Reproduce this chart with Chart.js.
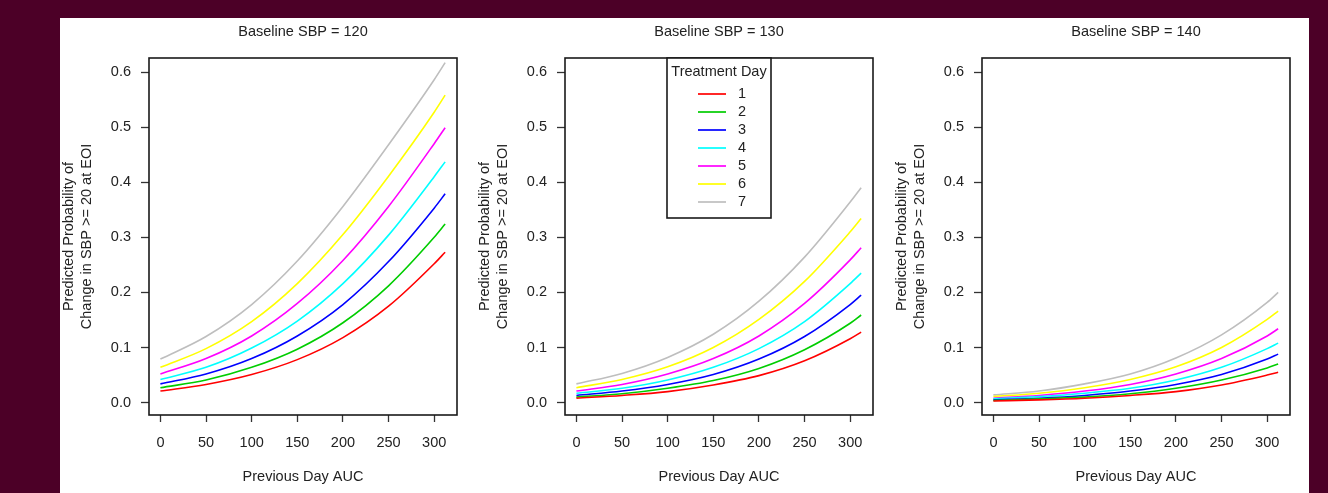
<!DOCTYPE html>
<html>
<head>
<meta charset="utf-8">
<script src="https://cdn.jsdelivr.net/npm/chart.js@4.4.1/dist/chart.umd.min.js"></script>
<style>
  body { margin: 0; background: #4c0027; width: 1328px; height: 493px; overflow: hidden; }
  #sheet { position: absolute; left: 60px; top: 18px; width: 1249px; height: 475px; background: #fff; }
  #sheet canvas { position: absolute; top: 0; }
</style>
</head>
<body>
<div id="sheet">
  <canvas id="p0" width="416" height="475" style="left:0px"></canvas>
  <canvas id="p1" width="416" height="475" style="left:416px"></canvas>
  <canvas id="p2" width="416" height="475" style="left:833px"></canvas>
</div>
<script>
// values
const auc = [0, 50, 100, 150, 200, 250, 300, 312];
const days = ["1", "2", "3", "4", "5", "6", "7"];
const dayColors = ["#ff0000", "#00cd00", "#0000ff", "#00ffff", "#ff00ff", "#ffff00", "#bebebe"];
const panelTitles = ["Baseline SBP = 120", "Baseline SBP = 130", "Baseline SBP = 140"];
const xTicks = [0, 50, 100, 150, 200, 250, 300];
const yTicks = [0, 0.1, 0.2, 0.3, 0.4, 0.5, 0.6];

// one row per treatment day
const sbp120 = [
    [0.021, 0.033, 0.051, 0.078, 0.118, 0.175, 0.252, 0.273],
    [0.027, 0.041, 0.064, 0.097, 0.145, 0.212, 0.300, 0.324],
    [0.034, 0.052, 0.080, 0.121, 0.178, 0.256, 0.353, 0.379],
    [0.042, 0.064, 0.099, 0.148, 0.216, 0.304, 0.410, 0.437],
    [0.052, 0.080, 0.121, 0.180, 0.258, 0.356, 0.470, 0.499],
    [0.064, 0.098, 0.147, 0.216, 0.305, 0.411, 0.527, 0.558],
    [0.079, 0.120, 0.178, 0.257, 0.356, 0.468, 0.586, 0.617]
];
const sbp130 = [
    [0.008, 0.013, 0.020, 0.032, 0.049, 0.076, 0.116, 0.128],
    [0.010, 0.016, 0.026, 0.040, 0.062, 0.096, 0.144, 0.159],
    [0.013, 0.021, 0.033, 0.051, 0.079, 0.120, 0.178, 0.195],
    [0.017, 0.026, 0.041, 0.064, 0.098, 0.147, 0.216, 0.235],
    [0.021, 0.033, 0.052, 0.080, 0.121, 0.180, 0.259, 0.281],
    [0.027, 0.042, 0.065, 0.100, 0.151, 0.220, 0.310, 0.334],
    [0.034, 0.053, 0.082, 0.124, 0.184, 0.264, 0.364, 0.390]
];
const sbp140 = [
    [0.003, 0.005, 0.008, 0.013, 0.020, 0.032, 0.050, 0.055],
    [0.004, 0.007, 0.010, 0.016, 0.026, 0.041, 0.063, 0.070],
    [0.005, 0.008, 0.013, 0.021, 0.033, 0.051, 0.079, 0.088],
    [0.007, 0.011, 0.017, 0.026, 0.041, 0.064, 0.098, 0.108],
    [0.008, 0.013, 0.021, 0.033, 0.052, 0.080, 0.121, 0.134],
    [0.011, 0.017, 0.027, 0.042, 0.065, 0.100, 0.151, 0.166],
    [0.014, 0.021, 0.034, 0.052, 0.081, 0.123, 0.182, 0.200]
];
const panels = [sbp120, sbp130, sbp140];

const FONT = "'Liberation Sans', Arial, sans-serif";
Chart.defaults.font.family = FONT;
Chart.defaults.font.size = 14.5;
Chart.defaults.color = "#222";

// R style box around the plot region + panel title centred over it
const boxPlugin = {
    id: "box",
    afterDatasetsDraw(chart) {
        const a = chart.chartArea, ctx = chart.ctx;
        ctx.save();
        ctx.strokeStyle = "#1a1a1a";
        ctx.lineWidth = 1.6;
        ctx.strokeRect(a.left, a.top, a.right - a.left, a.bottom - a.top);
        ctx.fillStyle = "#222";
        ctx.font = "14.5px " + FONT;
        ctx.textAlign = "center";
        ctx.textBaseline = "middle";
        ctx.fillText(chart.options.panelTitle, (a.left + a.right) / 2, 14);
        ctx.restore();
    }
};

// legend box at the top of the middle panel
const dayLegend = {
    id: "dayLegend",
    afterDraw(chart) {
        const a = chart.chartArea, ctx = chart.ctx;
        const cx = (a.left + a.right) / 2;
        const w = 104, h = 160;
        ctx.save();
        ctx.fillStyle = "#fff";
        ctx.fillRect(cx - w / 2, a.top, w, h);
        ctx.strokeStyle = "#1a1a1a";
        ctx.lineWidth = 1.6;
        ctx.strokeRect(cx - w / 2, a.top, w, h);
        ctx.fillStyle = "#222";
        ctx.font = "14.5px " + FONT;
        ctx.textAlign = "center";
        ctx.textBaseline = "middle";
        ctx.fillText("Treatment Day", cx, a.top + 14);
        ctx.textAlign = "left";
        days.forEach((d, i) => {
            const y = a.top + 36 + i * 18;
            ctx.strokeStyle = dayColors[i];
            ctx.lineWidth = 1.7;
            ctx.beginPath();
            ctx.moveTo(cx - 21, y);
            ctx.lineTo(cx + 7, y);
            ctx.stroke();
            ctx.fillText(d, cx + 19, y);
        });
        ctx.restore();
    }
};

panels.forEach((rows, p) => {
    const plugins = [boxPlugin];
    if (p === 1) plugins.push(dayLegend);
    new Chart(document.getElementById("p" + p), {
        type: "line",
        data: {
            datasets: rows.map((vals, i) => ({
                label: days[i],
                data: auc.map((x, j) => ({ x: x, y: vals[j] })),
                borderColor: dayColors[i],
                borderWidth: 1.6,
                pointRadius: 0,
                fill: false,
                cubicInterpolationMode: "monotone"
            }))
        },
        options: {
            panelTitle: panelTitles[p],
            responsive: false,
            animation: false,
            events: [],
            layout: { padding: { left: 0, right: 19, top: 40, bottom: 0 } },
            plugins: {
                legend: { display: false },
                tooltip: { enabled: false },
                title: { display: false }
            },
            scales: {
                x: {
                    type: "linear",
                    min: -12.5,
                    max: 325,
                    afterBuildTicks: (s) => { s.ticks = xTicks.map(v => ({ value: v })); },
                    afterFit: (s) => { s.height = 78; },
                    ticks: { padding: 12.3, maxRotation: 0, color: "#222" },
                    grid: { drawOnChartArea: false, drawTicks: true, tickLength: 7, tickColor: "#333", tickWidth: 1.3 },
                    border: { display: false },
                    title: { display: true, text: "Previous Day AUC", color: "#222", padding: { top: 0, bottom: 7.3 } }
                },
                y: {
                    type: "linear",
                    min: -0.0225,
                    max: 0.6255,
                    afterBuildTicks: (s) => { s.ticks = yTicks.map(v => ({ value: v })); },
                    afterFit: (s) => { s.width = 89; },
                    ticks: { padding: 10, color: "#222", callback: (v) => v.toFixed(1) },
                    grid: { drawOnChartArea: false, drawTicks: true, tickLength: 8, tickColor: "#333", tickWidth: 1.3 },
                    border: { display: false },
                    title: {
                        display: true,
                        text: ["Predicted Probability of", "Change in SBP >= 20 at EOI"],
                        color: "#222",
                        padding: { top: 0.6, bottom: 0 }
                    }
                }
            }
        },
        plugins: plugins
    });
});
</script>
</body>
</html>
